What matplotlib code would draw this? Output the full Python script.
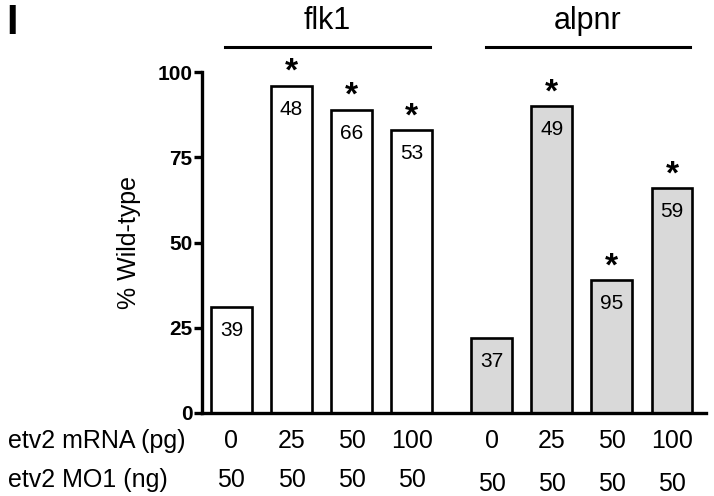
import numpy as np
from matplotlib import pyplot as plt

plt.rcParams['font.family'] = ['Liberation Sans', 'DejaVu Sans']

# data
groups = ['flk1', 'alpnr']
mrna_pg = ['0', '25', '50', '100']
mo1_ng = ['50', '50', '50', '50']
flk1_pct = [31, 96, 89, 83]
alpnr_pct = [22, 90, 39, 66]
flk1_n = [39, 48, 66, 53]
alpnr_n = [37, 49, 95, 59]
flk1_sig = [False, True, True, True]
alpnr_sig = [False, True, True, True]
fills = ['white', '#d9d9d9']

W, H = 714, 496
fig = plt.figure(figsize=(W / 100, H / 100), dpi=100)
x0, x1, y0, y1 = 202, 706, 413, 72
ax = fig.add_axes([x0 / W, 1 - y0 / H, (x1 - x0) / W, (y0 - y1) / H])

gap = 1 / 3
values = [flk1_pct, alpnr_pct]
counts = [flk1_n, alpnr_n]
sigs = [flk1_sig, alpnr_sig]
for g in range(len(groups)):
    pos = np.arange(len(mrna_pg)) + g * (len(mrna_pg) + gap)
    ax.bar(pos, values[g], width=0.68, color=fills[g], edgecolor='black', linewidth=1.9, zorder=2)
    for i, p in enumerate(pos):
        v = values[g][i]
        ax.annotate(str(counts[g][i]), (p, v), xytext=(0, -21), textcoords='offset points',
                    ha='center', va='baseline', fontsize=15)
        if sigs[g][i]:
            ax.annotate('*', (p, v), xytext=(0, 3.5), textcoords='offset points',
                        ha='center', va='baseline', fontsize=24, fontweight='bold')
        ax.text(p, -8.2, mrna_pg[i], ha='center', va='center', fontsize=18)
        ax.text(p, -19.6 if g == 0 else -20.8, mo1_ng[i], ha='center', va='center', fontsize=18)
    # group bracket and title
    ax.plot([pos[0] - 0.1, pos[-1] + 0.3], [107.3, 107.3], color='black', lw=2.2, clip_on=False)
    ax.text((pos[0] + pos[-1]) / 2 + 0.1, 110.5, groups[g], ha='center', va='bottom', fontsize=22)

ax.set_xlim(-0.49, 7.9)
ax.set_ylim(0, 100)
ax.set_yticks([0, 25, 50, 75, 100])
ax.set_xticks([])
for lab in ax.get_yticklabels():
    lab.set_fontweight('bold')
ax.tick_params(axis='y', length=6, width=2.4, labelsize=15, pad=1)
ax.spines['top'].set_visible(False)
ax.spines['right'].set_visible(False)
ax.spines['left'].set_linewidth(2.4)
ax.spines['bottom'].set_linewidth(2.4)
ax.set_ylabel('% Wild-type', fontsize=18, labelpad=12)

fig.text(8 / W, 1 - 441 / H, 'etv2 mRNA (pg)', ha='left', va='center', fontsize=18)
fig.text(8 / W, 1 - 480 / H, 'etv2 MO1 (ng)', ha='left', va='center', fontsize=18)
fig.text(6 / W, 1 - 23 / H, 'I', ha='left', va='center', fontsize=30, fontweight='bold')

fig.savefig('out.png', dpi=100)
